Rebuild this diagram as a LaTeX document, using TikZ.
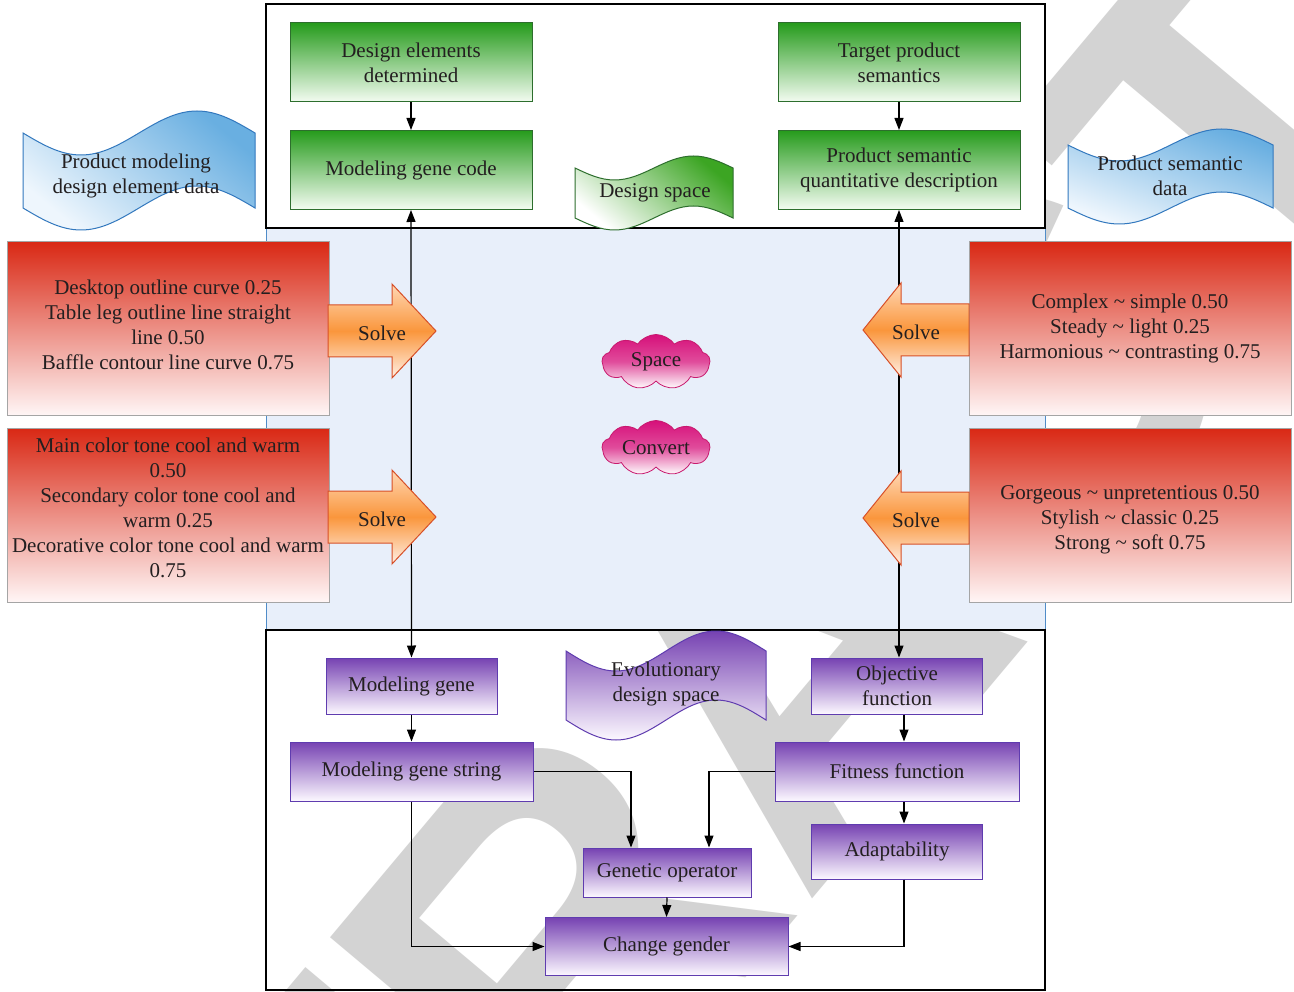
\documentclass[tikz,border=0pt]{standalone}
\usepackage{fontspec}
\setmainfont{Liberation Serif}
\newfontfamily\wmfont{Liberation Sans}
\usetikzlibrary{arrows.meta,shapes.symbols,calc}
\definecolor{txtc}{RGB}{35,31,32}
\definecolor{grnT}{RGB}{38,155,28}
\definecolor{grnB}{RGB}{244,252,242}
\definecolor{grnD}{RGB}{45,110,45}
\definecolor{redT}{RGB}{217,40,20}
\definecolor{redB}{RGB}{255,246,246}
\definecolor{boxG}{RGB}{165,165,165}
\definecolor{purT}{RGB}{118,66,178}
\definecolor{purB}{RGB}{252,248,255}
\definecolor{purD}{RGB}{95,60,175}
\definecolor{oraM}{RGB}{250,150,60}
\definecolor{oraT}{RGB}{255,215,180}
\definecolor{oraB}{RGB}{255,240,230}
\definecolor{oraD}{RGB}{215,80,40}
\definecolor{magT}{RGB}{214,16,122}
\definecolor{magD}{RGB}{200,25,110}
\definecolor{bluT}{RGB}{105,175,225}
\definecolor{bluB}{RGB}{238,246,253}
\definecolor{bluD}{RGB}{50,120,190}
\definecolor{grwT}{RGB}{60,165,35}
\definecolor{midbg}{RGB}{232,239,250}
\definecolor{midln}{RGB}{80,140,200}
\definecolor{wmark}{RGB}{211,211,211}
\tikzset{
 txt/.style={font=\fontsize{21}{25}\selectfont, text=txtc, align=center, inner sep=0pt},
 gbox/.style={txt, draw=grnD, line width=1pt, top color=grnT, bottom color=grnB, minimum width=242pt, minimum height=79pt},
 rbox/.style={draw=boxG, line width=1pt, top color=redT, bottom color=redB, minimum width=322pt, minimum height=174pt, inner sep=0pt},
 pbox/.style={txt, draw=purD, line width=1pt, top color=purT, bottom color=purB},
 conn/.style={line width=1.2pt, -{Triangle[length=12pt,width=9pt]}},
 connb/.style={line width=1.2pt, {Triangle[length=12pt,width=9pt]}-{Triangle[length=12pt,width=9pt]}},
 solvearr/.style={draw=oraD, line width=1pt, top color=oraT, bottom color=oraB, middle color=oraM},
 cloudbox/.style={cloud, cloud puffs=9, cloud puff arc=110, aspect=2, minimum width=108pt, minimum height=55pt, inner sep=0pt, draw=magD, line width=0.8pt, top color=magT, bottom color=white, middle color=magT!75!white},
 wm/.style={font=\wmfont\bfseries\fontsize{500}{500}\selectfont, text=wmark, inner sep=0pt}
}
% wave: style, x1, x2, ytop, ybottom, amplitude
\newcommand\wavep[6]{\path[#1] (#2,#4) sin ({#2+(#3-#2)/4},{#4+#6}) cos ({(#2+#3)/2},#4) sin ({#2+3*(#3-#2)/4},{#4-#6}) cos (#3,#4) -- (#3,#5) sin ({#2+3*(#3-#2)/4},{#5-#6}) cos ({(#2+#3)/2},#5) sin ({#2+(#3-#2)/4},{#5+#6}) cos (#2,#5) -- cycle;}
\newcommand\solveL[2]{\path[solvearr] (328,#1-26) -- (392,#1-26) -- (392,#1-47) -- (436,#1) -- (392,#1+47) -- (392,#1+26) -- (328,#1+26) -- cycle;
 \node[txt] (#2) at (382,#1+2) {Solve};}
\newcommand\solveRt[2]{\path[solvearr] (969,#1-26) -- (901,#1-26) -- (901,#1-47) -- (863,#1) -- (901,#1+47) -- (901,#1+26) -- (969,#1+26) -- cycle;
 \node[txt] (#2) at (916,#1+2) {Solve};}
\begin{document}
\begin{tikzpicture}[x=1pt,y=-1pt]
\useasboundingbox (0,0) rectangle (1294,992);
\fill[white] (0,0) rectangle (1294,992);
% watermark
\node[wm, rotate=50, anchor=base west] (wmk) at (-70,1951) {RETRACTED};
% frames
\fill[midbg] (266,228) rectangle (1045,630);
\draw[midln, line width=0.9pt] (266,228) -- (266,630) (1045,228) -- (1045,630);
\draw[line width=1.2pt, fill=white] (266,4) rectangle (1045,228);
\draw[line width=1.2pt] (266,630) rectangle (1045,990);
% green boxes
\node[gbox] (de) at (411,62.5) {Design elements\\determined};
\node[gbox] (mg) at (411,170) {Modeling gene code};
\node[gbox] (tp) at (899,62.5) {Target product\\semantics};
\node[gbox] (ps) at (899,170) {Product semantic\\quantitative description};
\draw[conn] (de.south) -- (mg.north);
\draw[conn] (tp.south) -- (ps.north);
% red boxes
\node[rbox] (r1) at (168,328.5) {};
\node[txt] (r1t) at (168,325) {Desktop outline curve 0.25\\Table leg outline line straight\\line 0.50\\Baffle contour line curve 0.75};
\node[rbox] (r2) at (168,515) {};
\node[txt] (r2t) at (168,508) {Main color tone cool and warm\\0.50\\Secondary color tone cool and\\warm 0.25\\Decorative color tone cool and warm\\0.75};
\node[rbox] (r3) at (1130,328.5) {};
\node[txt] (r3t) at (1130,328) {Complex \textasciitilde{} simple 0.50\\Steady \textasciitilde{} light 0.25\\Harmonious \textasciitilde{} contrasting 0.75};
\node[rbox] (r4) at (1130,515) {};
\node[txt] (r4t) at (1130,520) {Gorgeous \textasciitilde{} unpretentious 0.50\\Stylish \textasciitilde{} classic 0.25\\Strong \textasciitilde{} soft 0.75};
% purple boxes
\node[pbox, minimum width=171pt, minimum height=56pt] (gene) at (411.5,686) {Modeling gene};
\node[pbox, minimum width=243pt, minimum height=59pt] (gstr) at (411.5,771.5) {Modeling gene string};
\node[pbox, minimum width=171pt, minimum height=56pt] (obj) at (897,686) {Objective\\function};
\node[pbox, minimum width=244pt, minimum height=59pt] (fit) at (897,771.5) {Fitness function};
\node[pbox, minimum width=171pt, minimum height=55pt] (ada) at (897,851.5) {Adaptability};
\node[pbox, minimum width=168pt, minimum height=49pt] (gop) at (667,872.5) {Genetic operator};
\node[pbox, minimum width=243pt, minimum height=58pt] (chg) at (666.5,946.5) {Change gender};
% long connectors
\draw[connb] (mg.south) -- (gene.north);
\draw[connb] (ps.south) -- (ps.south |- obj.north);
% solve arrows
\solveL{331}{s1}
\solveL{517}{s2}
\solveRt{330}{s3}
\solveRt{518}{s4}
% clouds
\node[cloudbox] (c1) at (656,362) {};
\node[txt] (c1t) at (c1.center) {Space};
\node[cloudbox] (c2) at (656,448) {};
\node[txt] (c2t) at (c2.center) {Convert};
% waves
\wavep{draw=bluD, line width=1pt, top color=bluT, bottom color=bluB, shading angle=-40}{23}{255}{133}{208}{22}
\node[txt] (w1) at (136,175.5) {Product modeling\\design element data};
\wavep{draw=bluD, line width=1pt, top color=bluT, bottom color=bluB, shading angle=-20}{1068}{1273}{145}{208}{16}
\node[txt] (w2) at (1170,175.5) {Product semantic\\data};
\wavep{draw=grnD, line width=1pt, top color=grwT, bottom color=white, shading angle=-40}{575}{733}{168}{218}{12}
\node[txt] (w3) at (655,193) {Design space};
\wavep{draw=purD, line width=1pt, top color=purT, bottom color=purB}{566}{766}{651}{720}{20}
\node[txt] (w4) at (666,683.5) {Evolutionary\\design space};
% bottom connectors
\draw[conn] (gene.south) -- (gstr.north);
\draw[conn] ([xshift=7pt]obj.south) -- ([xshift=7pt]fit.north);
\draw[conn] ([xshift=7pt]fit.south) -- ([xshift=7pt]ada.north);
\draw[conn] (gstr.east) -| ([xshift=-36pt]gop.north);
\draw[conn] (fit.west) -| ([xshift=42pt]gop.north);
\draw[conn] (gstr.south) |- (chg.west);
\draw[conn] (gop.south) -- (chg.north);
\draw[conn] ([xshift=7pt]ada.south) |- (chg.east);
\end{tikzpicture}
\end{document}
